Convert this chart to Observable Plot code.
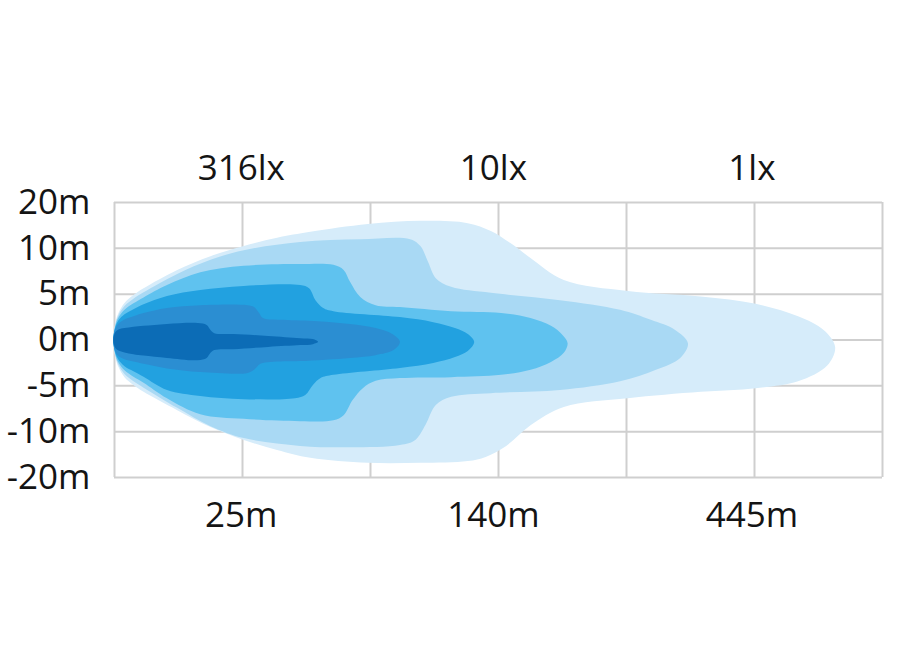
<!DOCTYPE html>
<html>
<head>
<meta charset="utf-8">
<script src="https://cdn.jsdelivr.net/npm/d3@7"></script>
<script src="https://cdn.jsdelivr.net/npm/@observablehq/plot@0.6"></script>
<style>
  html, body { margin: 0; padding: 0; background: #ffffff; }
  #chart { width: 900px; height: 660px; }
</style>
</head>
<body>
<div id="chart"></div>
<script>
// Grid positions (columns / rows of the beam chart)
const xGrid = [0, 1, 2, 3, 4, 5, 6];
const yGrid = [-3, -2, -1, 0, 1, 2, 3];
const yLabels = ["-20m", "-10m", "-5m", "0m", "5m", "10m", "20m"];
const xTickPos = [0.99, 2.96, 4.98];
const distanceLabels = ["25m", "140m", "445m"];
const luxLabels = ["316lx", "10lx", "1lx"];

// Isolux outlines, [column, row] pairs (outer -> inner)
const layer1 = [[-0.01,0],[-0.005,0.17],[0.008,0.39],[0.031,0.59],[0.078,0.81],[0.148,0.98],[0.227,1.13],[0.49,1.53],[0.75,1.83],[1.01,2.05],[1.27,2.23],[1.53,2.36],[1.98,2.53],[2.39,2.60],[2.76,2.55],[2.94,2.38],[3.09,2.12],[3.25,1.79],[3.51,1.31],[4.01,1.07],[4.58,0.95],[5.01,0.79],[5.34,0.52],[5.54,0.22],[5.63,-0.15],[5.57,-0.55],[5.34,-0.90],[5.01,-1.05],[4.58,-1.13],[4.01,-1.27],[3.51,-1.46],[3.25,-1.86],[3.06,-2.31],[2.90,-2.55],[2.76,-2.64],[2.39,-2.68],[1.98,-2.68],[1.53,-2.57],[1.27,-2.40],[1.01,-2.18],[0.75,-1.90],[0.49,-1.53],[0.227,-1.13],[0.148,-0.98],[0.078,-0.81],[0.031,-0.59],[0.008,-0.39],[-0.005,-0.17]];
const layer2 = [[-0.01,0],[-0.005,0.16],[0.008,0.36],[0.031,0.54],[0.078,0.74],[0.148,0.90],[0.227,1.04],[0.49,1.44],[0.75,1.75],[1.01,1.96],[1.45,2.14],[1.92,2.20],[2.31,2.20],[2.39,2.05],[2.45,1.70],[2.51,1.35],[2.63,1.16],[2.94,1.03],[3.48,0.87],[3.95,0.66],[4.19,0.44],[4.38,0.22],[4.48,-0.07],[4.42,-0.39],[4.23,-0.65],[3.95,-0.90],[3.48,-1.09],[2.94,-1.16],[2.63,-1.24],[2.51,-1.42],[2.43,-1.85],[2.35,-2.18],[2.23,-2.29],[1.84,-2.34],[1.45,-2.31],[1.01,-2.14],[0.75,-1.88],[0.49,-1.48],[0.227,-1.04],[0.148,-0.90],[0.078,-0.74],[0.031,-0.54],[0.008,-0.36],[-0.005,-0.16]];
const layer3 = [[-0.01,0],[-0.005,0.15],[0.008,0.33],[0.031,0.49],[0.078,0.66],[0.148,0.80],[0.227,0.93],[0.41,1.20],[0.67,1.48],[1.01,1.62],[1.45,1.66],[1.71,1.64],[1.79,1.53],[1.84,1.27],[1.92,0.94],[2.04,0.76],[2.23,0.72],[2.63,0.63],[3.02,0.59],[3.25,0.48],[3.41,0.31],[3.50,0.11],[3.54,-0.07],[3.51,-0.28],[3.41,-0.48],[3.25,-0.65],[3.02,-0.76],[2.63,-0.81],[2.23,-0.83],[2.04,-0.89],[1.94,-1.05],[1.86,-1.31],[1.79,-1.64],[1.71,-1.75],[1.45,-1.77],[1.01,-1.72],[0.67,-1.62],[0.41,-1.27],[0.227,-0.93],[0.148,-0.80],[0.078,-0.66],[0.031,-0.49],[0.008,-0.33],[-0.005,-0.15]];
const layer4 = [[-0.01,0],[-0.005,0.14],[0.008,0.30],[0.031,0.43],[0.078,0.56],[0.148,0.67],[0.227,0.78],[0.41,0.96],[0.67,1.09],[1.01,1.18],[1.45,1.20],[1.52,1.13],[1.57,0.87],[1.63,0.70],[1.71,0.63],[2.23,0.50],[2.49,0.39],[2.66,0.26],[2.76,0.13],[2.81,-0.04],[2.76,-0.24],[2.66,-0.37],[2.49,-0.50],[2.23,-0.61],[1.71,-0.76],[1.61,-0.83],[1.55,-0.98],[1.49,-1.20],[1.41,-1.27],[1.01,-1.29],[0.67,-1.22],[0.41,-1.09],[0.227,-0.80],[0.148,-0.68],[0.078,-0.57],[0.031,-0.43],[0.008,-0.30],[-0.005,-0.14]];
const layer5 = [[-0.01,0],[-0.005,0.13],[0.008,0.26],[0.031,0.36],[0.078,0.45],[0.148,0.52],[0.227,0.59],[0.41,0.70],[0.67,0.76],[1.04,0.76],[1.09,0.72],[1.13,0.59],[1.16,0.48],[1.32,0.44],[1.59,0.41],[1.84,0.35],[2.04,0.26],[2.17,0.13],[2.23,-0.04],[2.18,-0.22],[2.04,-0.33],[1.84,-0.39],[1.45,-0.46],[1.22,-0.48],[1.14,-0.52],[1.09,-0.65],[1.04,-0.72],[0.67,-0.70],[0.41,-0.62],[0.227,-0.52],[0.148,-0.47],[0.078,-0.42],[0.031,-0.35],[0.008,-0.26],[-0.005,-0.13]];
const layer6 = [[-0.01,0],[-0.005,0.10],[0.008,0.18],[0.031,0.23],[0.078,0.26],[0.148,0.29],[0.227,0.31],[0.41,0.35],[0.65,0.37],[0.72,0.33],[0.75,0.22],[0.78,0.15],[0.93,0.13],[1.20,0.09],[1.45,0.04],[1.55,0.02],[1.59,-0.04],[1.55,-0.09],[1.45,-0.11],[1.20,-0.15],[0.93,-0.20],[0.78,-0.22],[0.75,-0.28],[0.72,-0.39],[0.65,-0.44],[0.41,-0.39],[0.227,-0.34],[0.148,-0.31],[0.078,-0.27],[0.031,-0.23],[0.008,-0.18],[-0.005,-0.10]];

const layers = [layer1, layer2, layer3, layer4, layer5, layer6];
const layerColors = ["#d6ecfa", "#a9d9f4", "#5fc2ef", "#22a1e0", "#2b8ed2", "#0c6cb6"];

const gridColor = "#cfcfcf";
const fontSize = 35;

const plot = Plot.plot({
  width: 900,
  height: 660,
  marginTop: 202,
  marginBottom: 183,
  marginLeft: 114,
  marginRight: 18,
  x: {domain: [0, 6]},
  y: {domain: [-3, 3]},
  style: {fontFamily: "'Open Sans', sans-serif", fontSize: "35px", color: "#141414", background: "#ffffff"},
  marks: [
    Plot.ruleX(xGrid, {stroke: gridColor, strokeWidth: 2}),
    Plot.ruleY(yGrid, {stroke: gridColor, strokeWidth: 2}),
    ...layers.map((pts, i) =>
      Plot.line(pts, {x: d => d[0], y: d => d[1], fill: layerColors[i], stroke: "none", curve: "catmull-rom-closed"})
    ),
    Plot.axisY(yGrid, {tickSize: 0, tickPadding: 24, fontSize, label: null,
      tickFormat: d => yLabels[yGrid.indexOf(d)]}),
    Plot.axisX(xTickPos, {anchor: "top", tickSize: 0, tickPadding: 23, fontSize, label: null,
      tickFormat: d => luxLabels[xTickPos.indexOf(d)]}),
    Plot.axisX(xTickPos, {anchor: "bottom", tickSize: 0, tickPadding: 25, fontSize, label: null,
      tickFormat: d => distanceLabels[xTickPos.indexOf(d)]})
  ]
});
document.getElementById("chart").appendChild(plot);
</script>
</body>
</html>
